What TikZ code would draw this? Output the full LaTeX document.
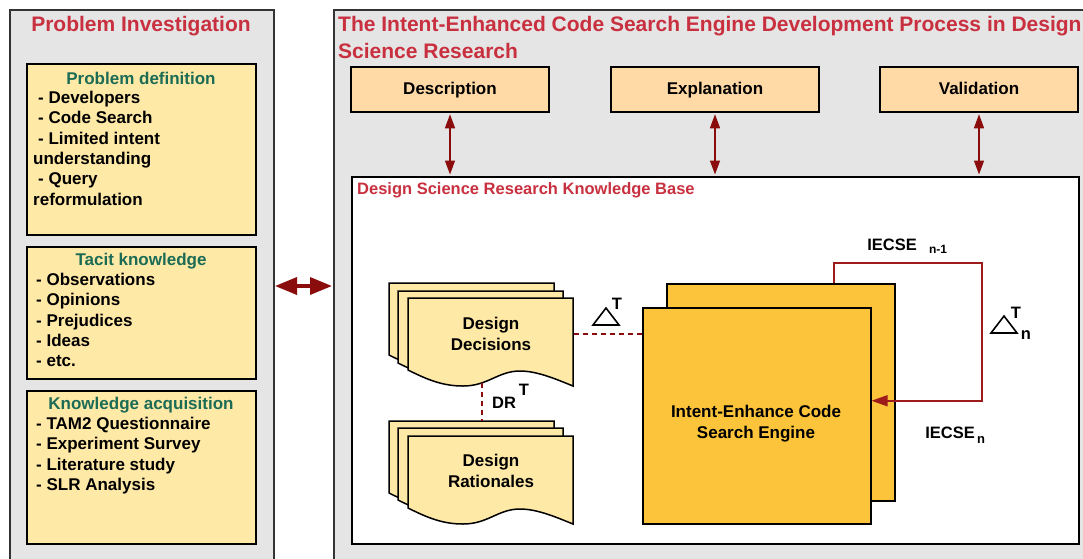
\documentclass[tikz,border=0pt]{standalone}
\usepackage{fontspec}
\setmainfont{Liberation Sans}
\usetikzlibrary{arrows.meta}
\definecolor{panelgray}{HTML}{E5E5E5}
\definecolor{edgegray}{HTML}{333333}
\definecolor{titlered}{HTML}{C9303F}
\definecolor{headgreen}{HTML}{1B6B55}
\definecolor{lightyellow}{HTML}{FFE9A6}
\definecolor{peach}{HTML}{FFDAA6}
\definecolor{gold}{HTML}{FCC43A}
\definecolor{darkred}{HTML}{8B0C0C}
\definecolor{fbred}{HTML}{9E1B1B}
\begin{document}
\begin{tikzpicture}[x=1pt,y=-1pt,
  panel/.style={draw=edgegray, fill=panelgray, line width=1.6pt, anchor=north west, inner sep=0},
  ybox/.style={draw=black, fill=lightyellow, line width=1.5pt, anchor=north west, inner sep=0, minimum width=229pt},
  obox/.style={draw=black, fill=peach, line width=1.5pt, inner sep=0, minimum height=45pt, text height=12.5pt, text depth=3.5pt, font=\fontsize{17}{20}\selectfont\bfseries},
  gbox/.style={draw=black, fill=gold, line width=1.5pt, anchor=north west, inner sep=0},
  ttl/.style={text=titlered, inner sep=0, font=\fontsize{21}{25}\selectfont\bfseries},
  head/.style={text=headgreen, inner sep=0, font=\fontsize{17}{20}\selectfont\bfseries},
  list/.style={anchor=north west, align=left, inner sep=0, font=\fontsize{17}{20.3}\selectfont\bfseries},
  doctext/.style={align=center, inner sep=0, font=\fontsize{17}{20.5}\selectfont\bfseries},
  lbl/.style={inner sep=0, font=\fontsize{16.5}{20}\selectfont\bfseries},
  sub/.style={inner sep=0, font=\fontsize{12}{14}\selectfont\bfseries},
  doc/.style={draw=black, fill=lightyellow, line width=1.5pt, line join=miter},
  tri/.style={draw=black, line width=1.6pt, line join=miter},
  bigarrow/.style={draw=darkred, line width=3.5pt, {Triangle[length=22pt,width=17pt]}-{Triangle[length=22pt,width=17pt]}},
  varrow/.style={draw=darkred, line width=1.4pt, {Triangle[length=14pt,width=10pt]}-{Triangle[length=14pt,width=10pt]}, shorten <=1.5pt, shorten >=1.5pt},
  dashlink/.style={draw=darkred, line width=1.4pt, dash pattern=on 5pt off 4pt},
  fb/.style={draw=fbred, line width=1.5pt, -{Triangle[length=16pt,width=11pt]}}
]
\useasboundingbox (0,0) rectangle (1083,558);
\clip (0,0) rectangle (1083,558);

% panels
\node[panel, minimum width=264pt, minimum height=580pt] (lp) at (9,9) {};
\node[panel, minimum width=800pt, minimum height=580pt] (rp) at (333,9) {};
\node[ttl] (lpt) at (141,26) {Problem Investigation};
\node[ttl, anchor=west] (rpt1) at (338,26) {The Intent-Enhanced Code Search Engine Development Process in Design};
\node[ttl, anchor=west] (rpt2) at (338,51) {Science Research};

% left boxes
\node[ybox, minimum height=171pt] (pd) at (26,63) {};
\node[ybox, minimum height=132pt] (tk) at (26,246) {};
\node[ybox, minimum height=153pt] (ka) at (26,390) {};
\node[head] (pdh) at (141,78) {Problem definition};
\node[head] (tkh) at (141,261) {Tacit knowledge};
\node[head] (kah) at (141,405) {Knowledge acquisition};
\node[list] (pdl) at (33,91) {\hspace*{5pt}- Developers\\\hspace*{5pt}- Code Search\\\hspace*{5pt}- Limited intent\\understanding\\\hspace*{5pt}- Query\\reformulation};
\node[list] (tkl) at (36,273) {- Observations\\- Opinions\\- Prejudices\\- Ideas\\- etc.};
\node[list] (kal) at (36,417) {- TAM2 Questionnaire\\- Experiment Survey\\- Literature study\\- SLR Analysis};

% big double arrow
\coordinate (la) at (275,286);
\coordinate (ra) at (332,286);
\draw[bigarrow] (la) -- (ra);

% top boxes
\node[obox, minimum width=198pt] (desc) at (450,89.5) {Description};
\node[obox, minimum width=208pt] (expl) at (715,89.5) {Explanation};
\node[obox, minimum width=198pt] (vali) at (979,89.5) {Validation};

% knowledge base
\node[draw=black, fill=white, line width=1.5pt, anchor=north west, inner sep=0, minimum width=727pt, minimum height=367pt] (kb) at (351,176) {};
\node[text=titlered, anchor=west, inner sep=0, font=\fontsize{16.5}{20}\selectfont\bfseries] (kbt) at (357,190) {Design Science Research Knowledge Base};

\draw[varrow] (desc.south) -- (desc.south |- kb.north);
\draw[varrow] (expl.south) -- (expl.south |- kb.north);
\draw[varrow] (vali.south) -- (vali.south |- kb.north);

% documents
\foreach \sx/\sy in {389/283, 398/291, 408/298, 389/421, 398/428, 408/436}{
  \draw[doc, shift={(\sx,\sy)}] (0,0) -- (165,0) -- (165,88)
    .. controls (150,82) and (130,73) .. (112,73)
    .. controls (90,73) and (80,88) .. (55,88)
    .. controls (35,88) and (20,82) .. (0,72) -- cycle;
}
\node[doctext] (dd) at (491,334) {Design\\Decisions};
\node[doctext] (dr) at (491,471) {Design\\Rationales};

% IECSE boxes
\node[gbox, minimum width=228pt, minimum height=217pt] (iback) at (666,283) {};
\node[gbox, minimum width=228pt, minimum height=216pt] (ie) at (642,307) {};
\node[doctext] (iet) at (756,423.5) {Intent-Enhance Code\\Search Engine};

% dashed links
\coordinate (ddb) at (482,383);
\coordinate (drt) at (482,421);
\draw[dashlink] (ddb) -- (drt);
\coordinate (dde) at (574,334);
\draw[dashlink] (dde) -- (dde -| ie.west);

% feedback loop
\coordinate (fbc) at (982,263);
\draw[fb] ([xshift=53pt]iback.north) |- (fbc) |- ([yshift=15pt]ie.east);

% labels
\node[lbl] (drl) at (504,403) {DR};
\node[lbl] (drs) at (524,390) {T};
\draw[tri] (593,325) -- (619,325) -- (606,308) -- cycle;
\node[lbl] (t1) at (617,304) {T};
\node[lbl] (l1) at (892,245) {IECSE};
\node[sub] (l1s) at (938,249) {n-1};
\draw[tri] (991,333) -- (1017,333) -- (1004,316) -- cycle;
\node[lbl] (t2) at (1016,313) {T};
\node[lbl] (n2) at (1026,335) {n};
\node[lbl] (l2) at (950,433) {IECSE};
\node[sub, font=\fontsize{13}{15}\selectfont\bfseries] (l2s) at (981,440) {n};
\end{tikzpicture}
\end{document}
